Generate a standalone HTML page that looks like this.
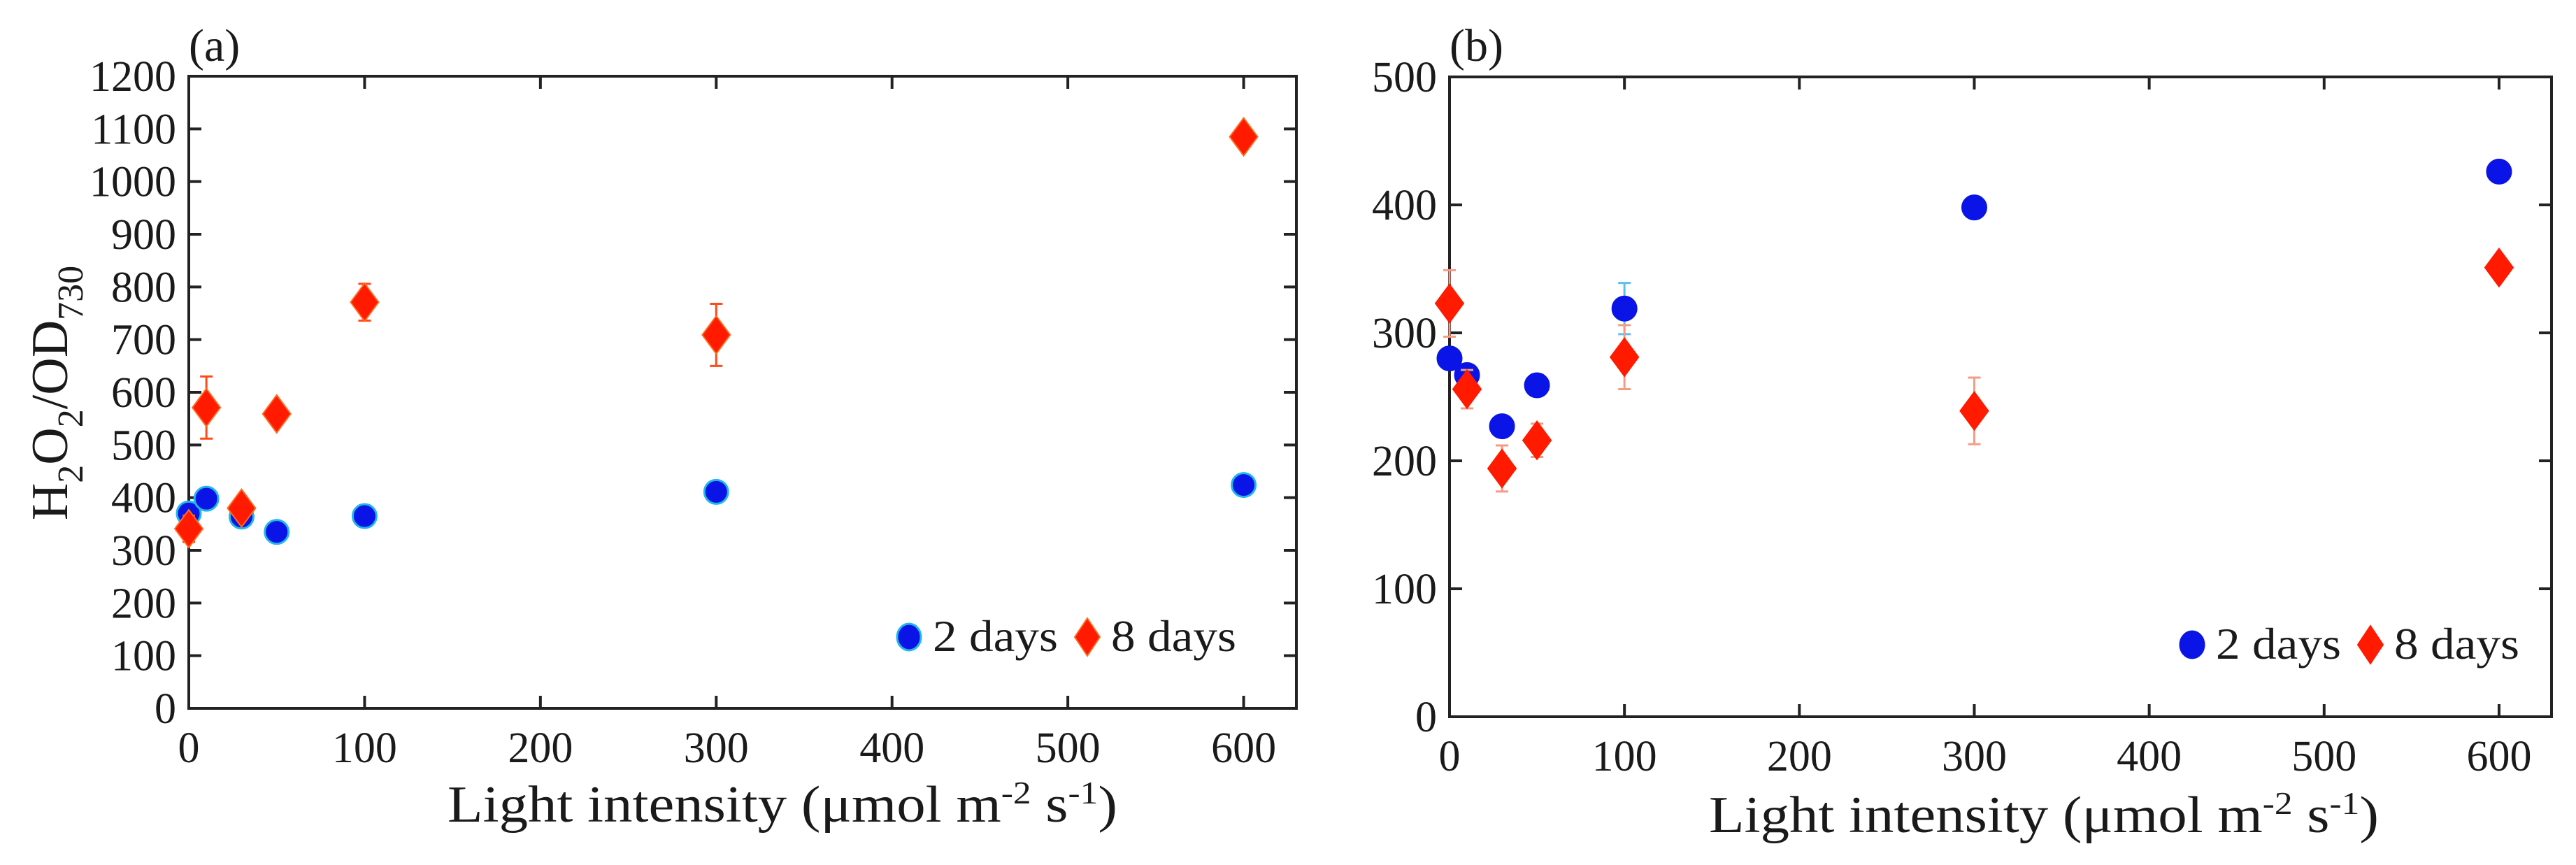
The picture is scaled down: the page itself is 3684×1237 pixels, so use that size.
<!DOCTYPE html>
<html><head><meta charset="utf-8"><style>
html,body{margin:0;padding:0;background:#fff}
svg{display:block}
text{font-family:"Liberation Serif",serif;fill:#1a1a1a}
</style></head><body>
<svg id="fig" width="3684" height="1237" viewBox="0 0 3684 1237" xmlns="http://www.w3.org/2000/svg"></svg>
<script>
const xCats = [0, 10, 30, 50, 100, 300, 600];
const xTicks = [0, 100, 200, 300, 400, 500, 600];
const aTicksY = [0,100,200,300,400,500,600,700,800,900,1000,1100,1200];
const a2days = [370, 398, 364, 335, 365, 411, 424];
const a2err = [8, 6, 6, 5, 6, 6, 6];
const a8days = [341, 571, 380, 559, 771, 709, 1085];
const a8err = [25, 59, 15, 15, 35, 59, 12];
const bTicksY = [0,100,200,300,400,500];
const b2days = [280, 267, 227, 259, 319, 398, 426];
const b2err = [8, 7, 4, 4, 20, 5, 4];
const b8days = [323, 256, 194, 216, 281, 239, 351];
const b8err = [26, 15, 18, 13, 25, 26, 8];

const NS = "http://www.w3.org/2000/svg";
const svg = document.getElementById('fig');
function mk(tag, attrs, parent, text){
  const e = document.createElementNS(NS, tag);
  for (const k in attrs) e.setAttribute(k, attrs[k]);
  if (text !== undefined) e.textContent = text;
  (parent||svg).appendChild(e);
  return e;
}

function panel(cfg){
  const g = mk('g', {});
  
  
  const L=cfg.L, R=cfg.R, T=cfg.T, B=cfg.B;
  const xs = v => L + (v - 0) / 630 * (R - L);
  const ys = v => B - v / cfg.ymax * (B - T);
  // ticks
  cfg.yTicks.forEach(v => {
    const y = ys(v);
    if (v>0 && v<cfg.ymax){
      const t1 = mk('line',{x1:L,y1:y,x2:L+18,y2:y,stroke:'#222','stroke-width':4},g);
      
      
      const t2 = mk('line',{x1:R,y1:y,x2:R-18,y2:y,stroke:'#222','stroke-width':4},g);
      
      
    }
    const lb = mk('text',{x:L-18,y:y+21,'font-size':62,'text-anchor':'end'},g,String(v));
    
    
  });
  xTicks.forEach(v => {
    const x = xs(v);
    if (v>0){
      const t1 = mk('line',{x1:x,y1:B,x2:x,y2:B-18,stroke:'#222','stroke-width':4},g);
      
      
      const t2 = mk('line',{x1:x,y1:T,x2:x,y2:T+18,stroke:'#222','stroke-width':4},g);
      
      
    }
    const lb = mk('text',{x:x,y:cfg.xlabY,'font-size':62,'text-anchor':'middle'},g,String(v));
    
    
  });
  const box = mk('rect',{x:L,y:T,width:R-L,height:B-T,fill:'none',stroke:'#222','stroke-width':4},g);
  
  

  function errbar(x, v, e, col){
    const eg = mk('g',{stroke:col,'stroke-width':3},g);
    
    
    mk('line',{x1:x,y1:ys(v+e),x2:x,y2:ys(v-e)},eg);
    mk('line',{x1:x-9,y1:ys(v+e),x2:x+9,y2:ys(v+e)},eg);
    mk('line',{x1:x-9,y1:ys(v-e),x2:x+9,y2:ys(v-e)},eg);
  }
  xCats.forEach((c,i) => {
    const x = xs(c);
    errbar(x, cfg.s2[i], cfg.e2[i], cfg.c2err);
    const p = mk('ellipse',{cx:x,cy:ys(cfg.s2[i]),rx:17,ry:17,fill:'#0a14e6',stroke:cfg.c2edge,'stroke-width':3},g);
    
    
  });
  xCats.forEach((c,i) => {
    const x = xs(c);
    errbar(x, cfg.s8[i], cfg.e8[i], cfg.c8err);
    const y = ys(cfg.s8[i]);
    const p = mk('polygon',{points:`${x},${y-27} ${x+20},${y} ${x},${y+27} ${x-20},${y}`,fill:'#ff1a00',stroke:cfg.c8edge,'stroke-width':2},g);
    
    
  });
  // legend
  const lg = mk('g',{},g);
  
  
  mk('ellipse',{cx:cfg.legX,cy:cfg.legY-20,rx:17,ry:19,fill:'#0a14e6',stroke:cfg.c2edge,'stroke-width':3},lg);
  mk('text',{x:cfg.legX+34,y:cfg.legY,'font-size':64,textLength:179,lengthAdjust:'spacingAndGlyphs'},lg,'2 days');
  const dx = cfg.legX+255, dy = cfg.legY-20;
  mk('polygon',{points:`${dx},${dy-27} ${dx+18},${dy} ${dx},${dy+27} ${dx-18},${dy}`,fill:'#ff1a00',stroke:cfg.c8edge,'stroke-width':2},lg);
  mk('text',{x:cfg.legX+289,y:cfg.legY,'font-size':64,textLength:179,lengthAdjust:'spacingAndGlyphs'},lg,'8 days');
  // panel label
  const pl = mk('text',{x:L,y:87,'font-size':66},g,cfg.label);
  
  
  // x title
  const xt = mk('text',{x:cfg.xtX,y:cfg.xtY,'font-size':74,'text-anchor':'middle',textLength:958,lengthAdjust:'spacingAndGlyphs'},g);
  
  
  xt.innerHTML = 'Light intensity (μmol m<tspan dy="-26" font-size="46">-2</tspan><tspan dy="26"> s</tspan><tspan dy="-26" font-size="46">-1</tspan><tspan dy="26">)</tspan>';
}

panel({name:'panel-a',label:'(a)',L:270,R:1854,T:109,B:1013,ymax:1200,yTicks:aTicksY,
  s2:a2days,e2:a2err,s8:a8days,e8:a8err,c2err:'#3aa0e0',c8err:'#ff4a1a',c2edge:'#22b8e8',c8edge:'#ff6a20',
  legX:1300,legY:931,xlabY:1090,xtX:1119,xtY:1175});
panel({name:'panel-b',label:'(b)',L:2073,R:3649,T:110,B:1025,ymax:500,yTicks:bTicksY,
  s2:b2days,e2:b2err,s8:b8days,e8:b8err,c2err:'#5cc0ea',c8err:'#f79a85',c2edge:'#0a14e6',c8edge:'#ff1a00',
  legX:3135,legY:942,xlabY:1102,xtX:2923,xtY:1190});

// y-axis title panel a
const yt = mk('text',{transform:'translate(96,562) rotate(-90)','font-size':74,'text-anchor':'middle'});


yt.innerHTML = 'H<tspan dy="22" font-size="52">2</tspan><tspan dy="-22">O</tspan><tspan dy="22" font-size="52">2</tspan><tspan dy="-22">/OD</tspan><tspan dy="22" font-size="52">730</tspan>';
</script>
</body></html>
